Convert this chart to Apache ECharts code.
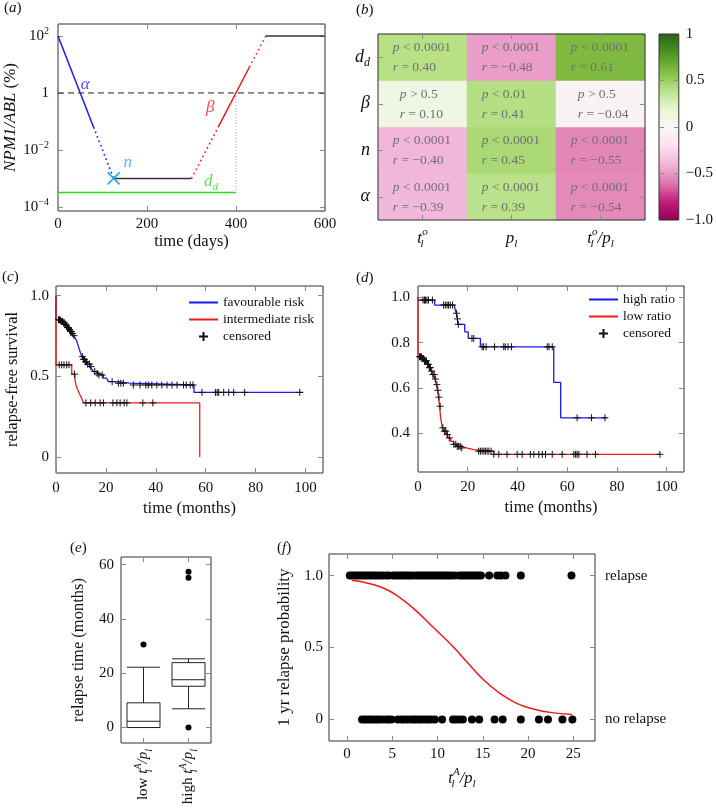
<!DOCTYPE html>
<html><head><meta charset="utf-8">
<script src="https://cdn.jsdelivr.net/npm/echarts@6/dist/echarts.min.js"></script>
<style>html,body{margin:0;padding:0;background:#fff}#c{width:716px;height:809px}</style>
</head><body><div id="c"></div>
<script>
// ---------------- DATA ----------------
// (a) schematic trajectory, [time (days), NPM1/ABL %]
const aAlphaSolid  = [[0,100],[80,0.063]];
const aAlphaDotted = [[80,0.063],[125,0.001]];
const aNadir       = [[125,0.001],[300,0.001]];
const aBetaDotted1 = [[300,0.001],[360,0.063]];
const aBetaSolid   = [[360,0.063],[430,8]];
const aBetaDotted2 = [[430,8],[467,100]];
const aPlateau     = [[467,100],[600,100]];
const aThreshold   = [[0,1],[600,1]];
const aDetect      = [[0,0.00032],[400,0.00032]];
const aDetectDrop  = [[400,1],[400,0.00032]];
const aNadirPoint  = [[125,0.001]];
const aNotes       = [['α',61,1.9],['β',342,0.3],['n',157,0.0035],['d_d',344,0.0008]];

// (b) correlation heatmap
const bColumns = ['t_l^o','p_l','t_l^o/p_l'];
const bRows    = ['α','n','β','d_d'];           // bottom to top
const bRAlpha  = [-0.39, 0.39, -0.54];
const bRN      = [-0.40, 0.45, -0.55];
const bRBeta   = [0.10, 0.41, -0.04];
const bRDd     = [0.40, -0.48, 0.61];
const bPAlpha  = ['< 0.0001','< 0.0001','< 0.0001'];
const bPN      = ['< 0.0001','< 0.0001','< 0.0001'];
const bPBeta   = ['> 0.5','< 0.01','> 0.5'];
const bPDd     = ['< 0.0001','< 0.0001','< 0.0001'];
const bColorbarTicks = [-1,-0.5,0,0.5,1];

// (c) Kaplan-Meier by risk group, [months, survival]
const cFavourable = [[0,1],[0,0.851],[1.5,0.847],[2.2,0.84],[2.8,0.832],[3.4,0.823],[4.0,0.813],[4.6,0.802],[5.2,0.79],[5.8,0.778],[6.4,0.765],[7.0,0.752],[7.6,0.738],[8.3,0.72],[8.8,0.695],[9.3,0.67],[9.8,0.645],[10.3,0.622],[11.0,0.605],[11.8,0.59],[12.6,0.575],[13.5,0.56],[14.3,0.545],[15.0,0.53],[16.0,0.518],[17.0,0.508],[19.0,0.488],[20.3,0.477],[21.0,0.467],[24.4,0.457],[29.7,0.446],[55.3,0.40],[98.7,0.40]];
const cIntermediate = [[0,1],[0,0.571],[6.3,0.513],[7.6,0.48],[8.0,0.446],[8.6,0.42],[9.0,0.405],[9.6,0.385],[10.3,0.363],[11.0,0.335],[57.6,0]];
const cFavCensored = [1.0,1.4,1.8,2.2,2.6,3.0,3.3,3.6,3.9,4.2,4.6,5.0,5.4,5.8,6.2,6.7,7.2,10.6,11.0,11.4,11.8,12.2,12.7,13.4,14.0,15.5,16.5,17.2,18.5,22.5,25.0,26.0,27.0,31,33.7,36,37,38.4,40.4,42.4,44.5,46.5,48.5,51.1,52.2,53.8,54.9,58.5,63.9,64.6,65.2,67.2,69.2,71.2,75.6,97.7];
const cIntCensored = [1.3,2.3,3.2,4.3,5.2,7.4,12,13.9,15.7,17.7,19,22.8,24.4,25.7,27.3,28.4,34.8,38.8];

// (d) Kaplan-Meier by ratio group
const dHigh = [[0,1],[0,0.988],[6.7,0.966],[14.7,0.955],[15.4,0.93],[15.8,0.905],[16.1,0.881],[18.8,0.848],[20.2,0.819],[25.1,0.782],[54.6,0.625],[57.4,0.469],[76,0.469]];
const dLow = [[0,1],[0,0.738],[1.5,0.73],[2.5,0.72],[3.5,0.705],[4.5,0.69],[5.3,0.675],[6.0,0.66],[6.8,0.64],[7.4,0.615],[7.9,0.59],[8.3,0.56],[8.7,0.52],[9.0,0.48],[9.4,0.45],[9.8,0.425],[10.5,0.41],[11.5,0.395],[12.3,0.38],[13.2,0.365],[14.3,0.352],[15.5,0.343],[17.5,0.336],[19.5,0.329],[22.4,0.322],[30.5,0.308],[97.5,0.308]];
const dHighCensored = [2.0,2.6,3.0,3.6,4.2,5.8,10.3,11.0,11.7,12.3,13.0,13.9,15.5,15.9,16.2,21.7,22.4,25.8,26.4,27.4,30.8,34.5,35.1,36.2,37.6,52,52.7,54,64,69.8,75.2];
const dLowCensored = [0.6,1.0,1.4,1.8,2.2,2.6,3.0,3.4,3.8,4.2,4.6,5.0,5.5,6.0,6.5,7.0,7.6,8.0,8.4,8.9,10.0,10.6,11.2,11.8,12.6,14.4,15.2,15.8,16.4,17.0,17.6,24.4,25.1,25.8,26.5,27.1,27.8,28.5,29.4,30.5,32.5,35.8,39.9,41.9,45.2,46.6,48.6,50,51.3,54,58,62.7,63.4,64,64.7,68,71.4,97.3];

// (e) boxplot of relapse time: [min, Q1, median, Q3, max]
const eGroups = ['low','high'];
const eBoxes = [[0,0,2.3,9.1,22.2],[6.9,15.2,17.6,23.9,25.3]];
const eOutliers = [[0,30.6],[1,0],[1,55.2],[1,57.4]];

// (f) logistic regression
const fRelapse = [0.3,0.6,0.9,1.2,1.5,1.8,2.1,2.4,2.7,3.0,3.3,3.6,3.9,4.3,4.6,5.1,5.4,5.7,6.0,6.3,6.6,6.9,7.2,7.6,7.9,8.2,8.5,8.8,9.1,9.4,9.7,10.0,10.3,10.6,10.9,11.2,11.5,11.9,12.4,12.7,13.0,13.3,13.6,13.9,14.2,14.5,14.8,15.7,16.6,17.0,17.5,19.2,24.8];
const fNoRelapse = [1.65,1.95,2.25,2.55,2.85,3.2,3.5,3.9,4.3,4.6,4.9,5.6,6.0,6.3,6.7,7.1,7.4,7.7,8.0,8.3,8.7,9.0,9.3,9.7,10.5,11.7,12.0,12.4,12.8,13.8,14.6,16.3,17.2,19.2,21.2,22.2,23.8,24.9];
const fFit = [[0.55,0.965],[1.85,0.953],[4,0.914],[5.9,0.844],[7.7,0.751],[9.6,0.635],[11.8,0.5],[13.2,0.402],[15.1,0.274],[16.9,0.181],[18.75,0.112],[20.6,0.072],[22.4,0.049],[24.9,0.035]];

// ---------------- STYLE HELPERS ----------------
const FONT = 'Liberation Serif';
const TXT = '#111';
const BLUE = '#1a1aee', RED = '#ee1a1a', GREEN = '#22dd22', CYAN = '#2aa6ea';
const PIYG = ['#8e0152','#c51b7d','#de77ae','#f1b6da','#fde0ef','#f7f7f7','#e6f5d0','#b8e186','#7fbc41','#4d9221','#276419'];

function mathRich(s) {
  const ss = Math.round(s * 0.66);
  return {
    i:  {fontFamily: FONT, fontStyle: 'italic', fontSize: s, lineHeight: s + 6},
    n:  {fontFamily: FONT, fontSize: s, lineHeight: s + 6},
    sp: {fontFamily: FONT, fontStyle: 'italic', fontSize: ss, lineHeight: ss, verticalAlign: 'top'},
    sb: {fontFamily: FONT, fontStyle: 'italic', fontSize: ss, lineHeight: ss, verticalAlign: 'bottom'},
    sb0:{fontFamily: FONT, fontStyle: 'italic', fontSize: ss, lineHeight: ss, verticalAlign: 'bottom', width: 0.1},
    up: {fontFamily: FONT, fontSize: ss, lineHeight: ss, verticalAlign: 'top'}
  };
}
function tick(custom, extra) {
  const t = Object.assign({show: true, inside: true, length: 5, lineStyle: {color: '#8a8a8a', width: 1}}, extra || {});
  if (custom) t.customValues = custom;
  return t;
}
function lab(o) { return Object.assign({color: TXT, fontFamily: FONT, fontSize: 15, interval: 0}, o); }
function nameStyle(size) { return {color: TXT, fontFamily: FONT, fontSize: size, rich: mathRich(size)}; }
const noLine = {show: false, onZero: false}, noSplit = {show: false};
function mirror(ax, pos) {
  return Object.assign({}, ax, {position: pos, axisLabel: {show: false}, name: '', axisLine: noLine});
}
function kmAt(curve, t) {
  let s = curve[0][1];
  for (const p of curve) { if (p[0] <= t) s = p[1]; else break; }
  return s;
}
const plusSym = 'path://M5 0L5 10M0 5L10 5';
const mathLabel = {
  't_l^o': '{i|t}{sb0|l}{sp|o}',
  'p_l': '{i|p}{sb|l}',
  't_l^o/p_l': '{i|t}{sb0|l}{sp|o}{i|/p}{sb|l}',
  'α': '{i|α}', 'n': '{i|n}', 'β': '{i|β}', 'd_d': '{i|d}{sb|d}'
};
const tlAp = '{i|t}{sb0|l}{sp|A}{i|/p}{sb|l}';

// colorbar fill (same PiYG ramp as the heatmap's visualMap), top = +1
const colorbarFill = {type: 'linear', x: 0, y: 0, x2: 0, y2: 1,
  colorStops: PIYG.slice().reverse().map((c, i, arr) => ({offset: i / (arr.length - 1), color: c}))};

// ---------------- GRIDS ----------------
const grids = [
  {left: 58,  top: 24,  width: 267, height: 187},  // a
  {left: 378, top: 34,  width: 267, height: 186, z: 5},  // b heatmap
  {left: 659, top: 34,  width: 24,  height: 186, backgroundColor: colorbarFill}, // b colorbar
  {left: 56,  top: 286, width: 267, height: 187},  // c
  {left: 418, top: 286, width: 266, height: 186},  // d
  {left: 121, top: 557, width: 90,  height: 186},  // e
  {left: 329, top: 554, width: 266, height: 187}   // f
].map(g => Object.assign({show: true, borderColor: '#333', borderWidth: 1, backgroundColor: 'transparent'}, g));

// ---------------- AXES ----------------
const xAxes = [], yAxes = [];
function addX(ax) { xAxes.push(ax); xAxes.push(mirror(ax, 'top')); }
function addY(ax) { yAxes.push(ax); yAxes.push(mirror(ax, 'right')); }

// (a)
addX({gridIndex: 0, type: 'value', min: 0, max: 600, interval: 200, axisLine: noLine, splitLine: noSplit,
  axisTick: tick(), axisLabel: lab({margin: 6}),
  name: 'time (days)', nameLocation: 'middle', nameGap: 17, nameTextStyle: nameStyle(16.5)});
addY({gridIndex: 0, type: 'log', logBase: 100, min: 7.2e-5, max: 263, axisLine: noLine, splitLine: noSplit,
  minorTick: {show: false}, axisTick: tick(),
  axisLabel: lab({margin: 9, showMinLabel: false, showMaxLabel: false, lineHeight: 20, rich: mathRich(15),
    formatter: v => { const e = Math.round(Math.log10(v)); return e === 0 ? '1' : '10{up|' + (e < 0 ? '−' + (-e) : e) + '}'; }}),
  name: '{i|NPM1/ABL} (%)', nameLocation: 'middle', nameGap: 36, nameTextStyle: nameStyle(17)});

// (b)
addX({gridIndex: 1, type: 'category', data: bColumns, z: 6, axisLine: noLine, splitLine: noSplit,
  axisTick: tick(null, {alignWithLabel: true, interval: 0}),
  axisLabel: lab({margin: 7, rich: mathRich(17), formatter: v => mathLabel[v]})});
addY({gridIndex: 1, type: 'category', data: bRows, z: 6, axisLine: noLine, splitLine: noSplit,
  axisTick: tick(null, {alignWithLabel: true, interval: 0}),
  axisLabel: lab({margin: 8, rich: mathRich(18), formatter: v => mathLabel[v]})});
// colorbar
xAxes.push({gridIndex: 2, type: 'value', min: 0, max: 1, show: false});
xAxes.push({gridIndex: 2, type: 'value', min: 0, max: 1, show: false, position: 'top'});
yAxes.push({gridIndex: 2, type: 'value', min: -1, max: 1, position: 'left', axisLine: noLine, splitLine: noSplit,
  axisTick: tick([-0.5, 0, 0.5]), axisLabel: {show: false}});
yAxes.push({gridIndex: 2, type: 'value', min: -1, max: 1, position: 'right', axisLine: noLine, splitLine: noSplit,
  axisTick: tick([-0.5, 0, 0.5]),
  axisLabel: lab({margin: 7, customValues: bColorbarTicks,
    formatter: v => v === 1 ? '1' : v === -1 ? '−1.0' : v < 0 ? '−' + (-v) : String(v)})});

// (c)
addX({gridIndex: 3, type: 'value', min: 0, max: 107, interval: 20, axisLine: noLine, splitLine: noSplit,
  axisTick: tick(), axisLabel: lab({margin: 8}),
  name: 'time (months)', nameLocation: 'middle', nameGap: 27, nameTextStyle: nameStyle(16.5)});
addY({gridIndex: 3, type: 'value', min: -0.1, max: 1.06, axisLine: noLine, splitLine: noSplit,
  axisTick: tick([0, 0.5, 1]),
  axisLabel: lab({margin: 7, customValues: [0, 0.5, 1], formatter: v => v === 1 ? '1.0' : String(v)}),
  name: 'relapse-free survival', nameLocation: 'middle', nameGap: 35, nameTextStyle: nameStyle(16.5)});

// (d)
addX({gridIndex: 4, type: 'value', min: 0, max: 107, interval: 20, axisLine: noLine, splitLine: noSplit,
  axisTick: tick(), axisLabel: lab({margin: 8}),
  name: 'time (months)', nameLocation: 'middle', nameGap: 27, nameTextStyle: nameStyle(16.5)});
addY({gridIndex: 4, type: 'value', min: 0.23, max: 1.05, axisLine: noLine, splitLine: noSplit,
  axisTick: tick([0.4, 0.6, 0.8, 1.0]),
  axisLabel: lab({margin: 8, customValues: [0.4, 0.6, 0.8, 1.0], formatter: v => v.toFixed(1)})});

// (e)
addX({gridIndex: 5, type: 'category', data: eGroups, axisLine: noLine, splitLine: noSplit,
  axisTick: tick(null, {alignWithLabel: true, interval: 0}),
  axisLabel: lab({margin: 6, rotate: 90, rich: mathRich(15), formatter: v => v + ' ' + tlAp})});
addY({gridIndex: 5, type: 'value', min: -5.7, max: 62.8, axisLine: noLine, splitLine: noSplit,
  axisTick: tick([0, 20, 40, 60]),
  axisLabel: lab({margin: 7, customValues: [0, 20, 40, 60]}),
  name: 'relapse time (months)', nameLocation: 'middle', nameGap: 34, nameTextStyle: nameStyle(16.5)});

// (f)
addX({gridIndex: 6, type: 'value', min: -2, max: 27.4, axisLine: noLine, splitLine: noSplit,
  axisTick: tick([0, 5, 10, 15, 20, 25]),
  axisLabel: lab({margin: 6, customValues: [0, 5, 10, 15, 20, 25]}),
  name: tlAp, nameLocation: 'middle', nameGap: 26, nameTextStyle: nameStyle(16.5)});
yAxes.push({gridIndex: 6, type: 'value', min: -0.15, max: 1.15, axisLine: noLine, splitLine: noSplit,
  axisTick: tick([0, 0.5, 1]),
  axisLabel: lab({margin: 6, customValues: [0, 0.5, 1], formatter: v => v === 1 ? '1.0' : String(v)}),
  name: '1 yr relapse probability', nameLocation: 'middle', nameGap: 36, nameTextStyle: nameStyle(17)});
yAxes.push({gridIndex: 6, type: 'value', min: -0.15, max: 1.15, position: 'right', axisLine: noLine, splitLine: noSplit,
  axisTick: tick([0, 0.5, 1]),
  axisLabel: lab({margin: 10, customValues: [0, 1], formatter: v => v === 1 ? 'relapse' : 'no relapse'})});

// ---------------- SERIES ----------------
const series = [];
function lineA(data, color, type, width) {
  series.push({type: 'line', xAxisIndex: 0, yAxisIndex: 0, data: data, symbol: 'none', silent: true,
    lineStyle: {color: color, width: width || 1.5, type: type || 'solid'}, z: 3});
}
lineA(aThreshold, '#222', [6, 4], 1);
lineA(aDetect, GREEN, 'solid', 1.5);
lineA(aDetectDrop, '#9a9af0', [1, 2], 1);
lineA(aAlphaSolid, BLUE);
lineA(aAlphaDotted, BLUE, [1.6, 3.2], 1.6);
lineA(aNadir, '#333');
lineA(aBetaDotted1, RED, [1.6, 3.2], 1.6);
lineA(aBetaSolid, RED);
lineA(aBetaDotted2, RED, [1.6, 3.2], 1.6);
lineA(aPlateau, '#333');
series.push({type: 'scatter', xAxisIndex: 0, yAxisIndex: 0, data: aNadirPoint, symbol: 'path://M0 0L10 10M10 0L0 10',
  symbolSize: 12, itemStyle: {color: 'transparent', borderColor: CYAN, borderWidth: 1.6, opacity: 1}, z: 5});
const noteColors = {'α': BLUE, 'β': RED, 'n': CYAN, 'd_d': GREEN};
series.push({type: 'scatter', xAxisIndex: 0, yAxisIndex: 0, symbolSize: 0, silent: true,
  data: aNotes.map(n => ({name: n[0], value: [n[1], n[2]],
    label: {show: true, position: 'inside', formatter: mathLabel[n[0]], color: noteColors[n[0]], rich: mathRich(17)}}))});

// (b) heatmap
const bRByRow = [bRAlpha, bRN, bRBeta, bRDd];
const bPByRow = [bPAlpha, bPN, bPBeta, bPDd];
const heatData = [];
bRByRow.forEach((row, ri) => row.forEach((r, ci) => {
  const p = bPByRow[ri][ci];
  heatData.push({value: [ci, ri, r, p],
    label: {position: [p.indexOf('>') === 0 ? 22 : 15, 4]}});
}));
const HEAT = '#707070';
const heatIdx = series.length;
series.push({type: 'heatmap', xAxisIndex: 2, yAxisIndex: 2, data: heatData, silent: true,
  label: {show: true, align: 'left', verticalAlign: 'top', color: HEAT, fontFamily: FONT, fontSize: 13.5, lineHeight: 20,
    formatter: prm => {
      const r = prm.value[2];
      const rs = (r < 0 ? '−' : '') + Math.abs(r).toFixed(2);
      return '{pi|p} ' + prm.value[3] + '\n{pi|r} = ' + rs;
    },
    rich: {pi: {fontFamily: FONT, fontStyle: 'italic', fontSize: 13.5, lineHeight: 20, color: HEAT}}}});

// (c), (d) Kaplan-Meier
function km(name, curve, color, xi, yi) {
  series.push({type: 'line', name: name, xAxisIndex: xi, yAxisIndex: yi, data: curve, step: 'end', symbol: 'none',
    lineStyle: {color: color, width: 1.3}, itemStyle: {color: color}, z: 3});
}
function censSeries(points, xi, yi) {
  series.push({type: 'scatter', name: 'censored', xAxisIndex: xi, yAxisIndex: yi, symbol: plusSym, symbolSize: 7,
    data: points, itemStyle: {color: 'transparent', borderColor: '#111', borderWidth: 1, opacity: 1}, z: 4});
}
km('favourable risk', cFavourable, BLUE, 6, 6);
km('intermediate risk', cIntermediate, RED, 6, 6);
censSeries(cFavCensored.map(t => [t, kmAt(cFavourable, t)]).concat(cIntCensored.map(t => [t, kmAt(cIntermediate, t)])), 6, 6);
km('high ratio', dHigh, BLUE, 8, 8);
km('low ratio', dLow, RED, 8, 8);
censSeries(dHighCensored.map(t => [t, kmAt(dHigh, t)]).concat(dLowCensored.map(t => [t, kmAt(dLow, t)])), 8, 8);

// (e)
series.push({type: 'boxplot', xAxisIndex: 10, yAxisIndex: 10, data: eBoxes, boxWidth: [33, 33], silent: true,
  itemStyle: {color: '#fff', borderColor: '#222', borderWidth: 1}});
series.push({type: 'scatter', xAxisIndex: 10, yAxisIndex: 10, data: eOutliers, symbolSize: 6, silent: true,
  itemStyle: {color: '#000', opacity: 1}});

// (f)
series.push({type: 'scatter', xAxisIndex: 12, yAxisIndex: 12, data: fRelapse.map(x => [x, 1]), symbolSize: 8, silent: true,
  itemStyle: {color: '#000', opacity: 1}});
series.push({type: 'scatter', xAxisIndex: 12, yAxisIndex: 12, data: fNoRelapse.map(x => [x, 0]), symbolSize: 8, silent: true,
  itemStyle: {color: '#000', opacity: 1}});
series.push({type: 'line', xAxisIndex: 12, yAxisIndex: 12, data: fFit, smooth: true, symbol: 'none', silent: true,
  lineStyle: {color: RED, width: 1.5}, z: 3});

// ---------------- TITLES / LEGENDS ----------------
const tRich = {i: {fontFamily: FONT, fontStyle: 'italic', fontSize: 15, color: TXT}};
const panelTitles = [['a', 4, 1], ['b', 356, 3], ['c', 2, 270], ['d', 356, 271], ['e', 70, 541], ['f', 277, 541]];
const titles = panelTitles.map(t => ({text: '({i|' + t[0] + '})', left: t[1], top: t[2], padding: 0,
  textStyle: {fontFamily: FONT, fontSize: 15, fontWeight: 'normal', color: TXT, rich: tRich}}));

const hideSym = {color: 'transparent', borderWidth: 0, opacity: 0};
function legItems(names) {
  return names.map(n => n === 'censored' ? {name: n} : {name: n, itemStyle: hideSym});
}
const legendBase = {orient: 'vertical', itemWidth: 29, itemHeight: 9, itemGap: 2, padding: 0, selectedMode: false,
  textStyle: {fontFamily: FONT, fontSize: 13.5, color: TXT, lineHeight: 15}};
const legends = [
  Object.assign({}, legendBase, {data: legItems(['favourable risk', 'intermediate risk', 'censored']), left: 188, top: 295}),
  Object.assign({}, legendBase, {data: legItems(['high ratio', 'low ratio', 'censored']), left: 588, top: 292})
];

const chart = echarts.init(document.getElementById('c'), null, {renderer: 'canvas'});
chart.setOption({
  animation: false,
  backgroundColor: '#fff',
  title: titles,
  legend: legends,
  grid: grids,
  xAxis: xAxes,
  yAxis: yAxes,
  visualMap: [{type: 'continuous', show: false, min: -1, max: 1, seriesIndex: heatIdx, dimension: 2,
    inRange: {color: PIYG}}],
  series: series
});
</script></body></html>
